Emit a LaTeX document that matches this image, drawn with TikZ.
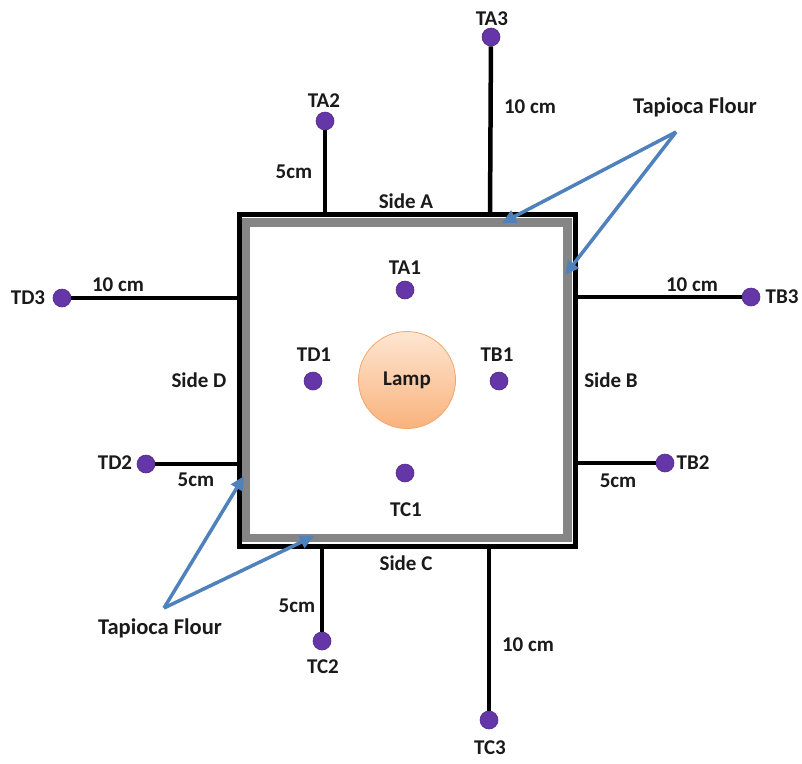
\documentclass[tikz,border=0pt]{standalone}
\usepackage{fontspec}
\setmainfont{Carlito}
\usetikzlibrary{arrows.meta}
\definecolor{dotpurple}{HTML}{6536A8}
\definecolor{flourblue}{HTML}{4F81BD}
\definecolor{bandgray}{HTML}{858585}
\definecolor{lamplight}{HTML}{FEE6D2}
\definecolor{lampdark}{HTML}{F9B27C}
\definecolor{lampedge}{HTML}{F2A66E}
\definecolor{txt}{HTML}{1A1A1A}
\begin{document}
\begin{tikzpicture}[x=1pt,y=-1pt,
  dot/.style={circle,fill=dotpurple,draw=dotpurple!80!black,line width=0.6pt,inner sep=0pt,minimum size=18pt},
  lbl/.style={inner sep=0pt,text=txt,font=\fontsize{21}{24}\selectfont\bfseries},
  flbl/.style={inner sep=0pt,text=txt,font=\fontsize{22.5}{26}\selectfont\bfseries},
  wire/.style={line width=4.5pt,black},
  flour/.style={line width=3.5pt,flourblue,-{Triangle[length=14pt,width=13pt]}},
  lampnode/.style={circle,minimum size=97pt,inner sep=0pt,draw=lampedge,line width=0.8pt,
     top color=lamplight,bottom color=lampdark,text=txt,font=\fontsize{21}{24}\selectfont\bfseries}
]
\useasboundingbox[fill=white] (0,0) rectangle (802,763);

% box
\draw[bandgray,line width=8.5pt] (246,222.5) rectangle (567.5,538);
\draw[black,line width=5pt] (239.5,214.5) rectangle (575,546.5);

% coordinates on box sides
\coordinate (sA2) at (325,214.5);
\coordinate (sA3) at (490,214.5);
\coordinate (sB3) at (575,297);
\coordinate (sB2) at (575,463);
\coordinate (sC2) at (322,546.5);
\coordinate (sC3) at (489,546.5);
\coordinate (sD3) at (239.5,298);
\coordinate (sD2) at (239.5,464);

% outer dots
\node[dot] (TA3) at (491,37) {};
\node[dot] (TA2) at (325,121) {};
\node[dot] (TB3) at (751,297) {};
\node[dot] (TB2) at (665,463) {};
\node[dot] (TC2) at (322,641) {};
\node[dot] (TC3) at (489,720) {};
\node[dot] (TD3) at (62,298) {};
\node[dot] (TD2) at (146,464) {};

% wires
\draw[wire] (sA3) -- (TA3);
\draw[wire] (sA2) -- (TA2);
\draw[wire] (sB3) -- (TB3);
\draw[wire] (sB2) -- (TB2);
\draw[wire] (sC2) -- (TC2);
\draw[wire] (sC3) -- (TC3);
\draw[wire] (sD3) -- (TD3);
\draw[wire] (sD2) -- (TD2);

% inner dots
\node[dot] (TA1) at (405,290) {};
\node[dot] (TB1) at (499,381) {};
\node[dot] (TC1) at (405,473) {};
\node[dot] (TD1) at (313,381) {};

% lamp
\node[lampnode] (lamp) at (407,380) {Lamp};

% dot labels
\node[lbl] (lTA3) at (492,19) {TA3};
\node[lbl] (lTA2) at (324,101) {TA2};
\node[lbl] (lTA1) at (405,268) {TA1};
\node[lbl] (lTB1) at (497,355) {TB1};
\node[lbl] (lTD1) at (314,355) {TD1};
\node[lbl] (lTC1) at (406,510) {TC1};
\node[lbl] (lTB3) at (782,297) {TB3};
\node[lbl] (lTB2) at (693,463) {TB2};
\node[lbl] (lTD3) at (28,298) {TD3};
\node[lbl] (lTD2) at (115,463) {TD2};
\node[lbl] (lTC2) at (323,667) {TC2};
\node[lbl] (lTC3) at (490,748) {TC3};

% distance labels
\node[lbl] (dA3) at (530,107) {10 cm};
\node[lbl] (dA2) at (294,172) {5cm};
\node[lbl] (dB3) at (692,285) {10 cm};
\node[lbl] (dB2) at (618,481) {5cm};
\node[lbl] (dD3) at (118,285) {10 cm};
\node[lbl] (dD2) at (196,480) {5cm};
\node[lbl] (dC2) at (297,606) {5cm};
\node[lbl] (dC3) at (528,645) {10 cm};

% side labels
\node[lbl] (sideA) at (406,201) {Side A};
\node[lbl] (sideB) at (611,380) {Side B};
\node[lbl] (sideC) at (406,563) {Side C};
\node[lbl] (sideD) at (199,380) {Side D};

% tapioca flour
\node[flbl] (tfTop) at (695,107) {Tapioca Flour};
\node[flbl] (tfBot) at (160,628) {Tapioca Flour};
\coordinate (tfTopS) at (676,132);
\coordinate (tfBotS) at (164,608);
\coordinate (tA) at (502,223);
\coordinate (tB) at (565,275);
\coordinate (tD) at (244,476);
\coordinate (tC) at (314,536);
\draw[flour] (tfTopS) -- (tA);
\draw[flour] (tfTopS) -- (tB);
\draw[flour] (tfBotS) -- (tD);
\draw[flour] (tfBotS) -- (tC);
\end{tikzpicture}
\end{document}
